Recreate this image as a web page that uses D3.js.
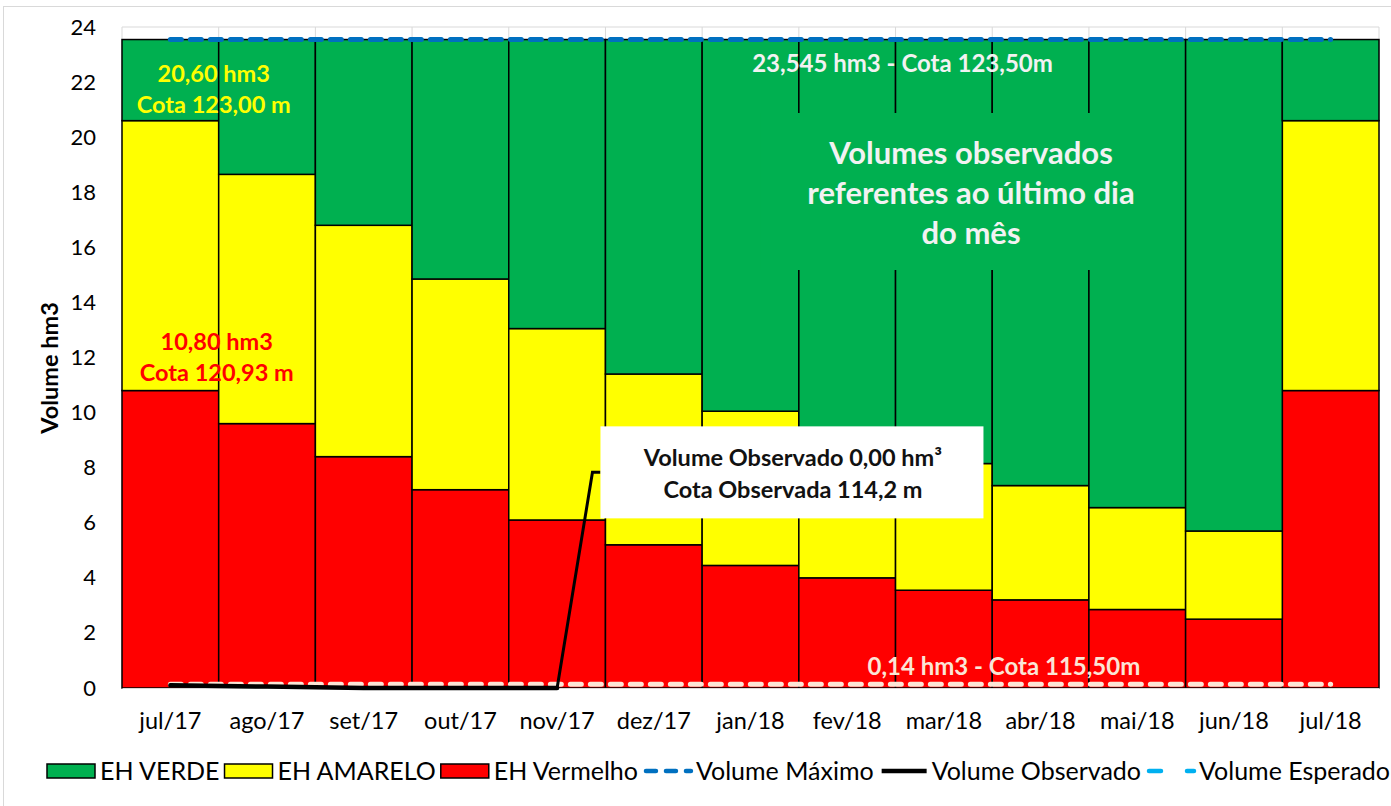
<!DOCTYPE html>
<html>
<head>
<meta charset="utf-8">
<script src="https://cdn.jsdelivr.net/npm/d3@7"></script>
<style>
  body { margin: 0; background: #fff; }
  svg { display: block; font-family: Lato, "Open Sans", sans-serif; }
</style>
</head>
<body>
<div id="chart"></div>
<script>
// months on the x axis
const months = ["jul/17", "ago/17", "set/17", "out/17", "nov/17", "dez/17", "jan/18",
    "fev/18", "mar/18", "abr/18", "mai/18", "jun/18", "jul/18"];

// stacked bands (hm3)
const ehVermelho = [10.80, 9.60, 8.40, 7.20, 6.10, 5.20, 4.45, 4.00, 3.55, 3.20, 2.85, 2.50, 10.80];
const ehAmarelo = [9.80, 9.05, 8.40, 7.65, 6.95, 6.20, 5.60, 5.05, 4.60, 4.15, 3.70, 3.20, 9.80];
const ehVerde = [2.945, 4.895, 6.745, 8.695, 10.495, 12.145, 13.495, 14.495, 15.395, 16.195, 16.995, 17.845, 2.945];

// lines
const volumeMaximo = [23.545, 23.545, 23.545, 23.545, 23.545, 23.545, 23.545, 23.545, 23.545, 23.545, 23.545, 23.545, 23.545];
const volumeMinimo = [0.14, 0.14, 0.14, 0.14, 0.14, 0.14, 0.14, 0.14, 0.14, 0.14, 0.14, 0.14, 0.14];
const volumeObservado = [0.10, 0.05, 0.00, 0.00, 0.00];

const yTicks = [0, 2, 4, 6, 8, 10, 12, 14, 16, 18, 20, 22, 24];

const width = 1391, height = 806;
const margin = { top: 27, right: 12, bottom: 118, left: 122 };

const svg = d3.select("#chart").append("svg")
    .attr("width", width)
    .attr("height", height);

// chart area border
svg.append("rect")
    .attr("x", 3.5).attr("y", 6.5)
    .attr("width", 1400).attr("height", 900)
    .attr("fill", "#fff")
    .attr("stroke", "#d9d9d9");

const x = d3.scaleBand()
    .domain(months)
    .range([margin.left, width - margin.right])
    .padding(0);

const y = d3.scaleLinear()
    .domain([0, 24])
    .range([height - margin.bottom, margin.top]);

const cx = m => x(m) + x.bandwidth() / 2;

// gridlines
svg.append("g")
    .selectAll("line")
    .data(yTicks)
    .join("line")
    .attr("x1", x.range()[0]).attr("x2", x.range()[1])
    .attr("y1", d => y(d)).attr("y2", d => y(d))
    .attr("stroke", "#d9d9d9");

svg.append("g")
    .selectAll("line")
    .data(months.map(m => x(m)).concat([x.range()[1]]))
    .join("line")
    .attr("x1", d => d).attr("x2", d => d)
    .attr("y1", y(24)).attr("y2", y(0))
    .attr("stroke", "#d9d9d9");

// stacked bars
const table = months.map((m, i) => ({
    month: m,
    vermelho: ehVermelho[i],
    amarelo: ehAmarelo[i],
    verde: ehVerde[i]
}));
const keys = ["vermelho", "amarelo", "verde"];
const colors = { vermelho: "#ff0000", amarelo: "#ffff00", verde: "#00b050" };
const stacked = d3.stack().keys(keys)(table);

svg.append("g")
    .selectAll("g")
    .data(stacked)
    .join("g")
    .attr("fill", d => colors[d.key])
    .selectAll("rect")
    .data(d => d)
    .join("rect")
    .attr("x", d => x(d.data.month))
    .attr("y", d => y(d[1]))
    .attr("width", x.bandwidth())
    .attr("height", d => y(d[0]) - y(d[1]))
    .attr("stroke", "#000")
    .attr("stroke-width", 1.5);

// y axis
const yAxis = svg.append("g")
    .attr("transform", `translate(${margin.left},0)`)
    .call(d3.axisLeft(y).tickValues(yTicks).tickSize(0).tickPadding(26));
yAxis.select(".domain").remove();
yAxis.selectAll("text")
    .attr("font-size", 22)
    .attr("fill", "#000")
    .attr("font-family", "Lato");

// x axis
const xAxis = svg.append("g")
    .attr("transform", `translate(0,${y(0)})`)
    .call(d3.axisBottom(x).tickSize(0).tickPadding(24));
xAxis.select(".domain").attr("stroke", "#d9d9d9");
xAxis.selectAll("text")
    .attr("font-size", 23.5)
    .attr("fill", "#000")
    .attr("font-family", "Lato");

// axis title
svg.append("text")
    .attr("transform", "translate(58,368) rotate(-90)")
    .attr("text-anchor", "middle")
    .attr("font-size", 23.5)
    .attr("font-weight", "bold")
    .text("Volume hm3");

const lineGen = d3.line()
    .x((d, i) => cx(months[i]))
    .y(d => y(d));

// volume minimo (dashed light)
svg.append("path")
    .datum(volumeMinimo)
    .attr("d", lineGen)
    .attr("fill", "none")
    .attr("stroke", "#fbe5d6")
    .attr("stroke-width", 5)
    .attr("stroke-linecap", "round")
    .attr("stroke-dasharray", "11,9");

// volume maximo
svg.append("path")
    .datum(volumeMaximo)
    .attr("d", lineGen)
    .attr("fill", "none")
    .attr("stroke", "#0070c0")
    .attr("stroke-width", 5)
    .attr("stroke-linecap", "round")
    .attr("stroke-dasharray", "11,9");

// volume observado
svg.append("path")
    .datum(volumeObservado)
    .attr("d", lineGen)
    .attr("fill", "none")
    .attr("stroke", "#000")
    .attr("stroke-width", 4.5)
    .attr("stroke-linecap", "round");

// callout for observed value
const last = volumeObservado.length - 1;
const box = { x: x("dez/17") - 5, y: y(9.5), w: 383, h: 92 };
svg.append("path")
    .attr("d", d3.line()([
        [cx(months[last]), y(volumeObservado[last])],
        [box.x - 8, box.y + box.h / 2],
        [box.x, box.y + box.h / 2]
    ]))
    .attr("fill", "none")
    .attr("stroke", "#000")
    .attr("stroke-width", 3);
svg.append("rect")
    .attr("x", box.x).attr("y", box.y)
    .attr("width", box.w).attr("height", box.h)
    .attr("fill", "#fff");
const callout = svg.append("text")
    .attr("text-anchor", "middle")
    .attr("font-size", 23.5)
    .attr("font-weight", "bold")
    .attr("fill", "#111");
callout.append("tspan")
    .attr("x", box.x + box.w / 2 + 1).attr("y", box.y + 40)
    .text("Volume Observado 0,00 hm³");
callout.append("tspan")
    .attr("x", box.x + box.w / 2 + 1).attr("y", box.y + 72)
    .text("Cota Observada 114,2 m");

// text box with note
svg.append("rect")
    .attr("x", x("fev/18") - 38).attr("y", 113)
    .attr("width", 420).attr("height", 157)
    .attr("fill", "#00b050");
const note = svg.append("text")
    .attr("text-anchor", "middle")
    .attr("font-size", 31)
    .attr("font-weight", "bold")
    .attr("fill", "#f2f2f2");
["Volumes observados", "referentes ao último dia", "do mês"].forEach((t, i) => {
    note.append("tspan")
        .attr("x", 971).attr("y", 164 + i * 40)
        .text(t);
});

// data labels
function label(lines, xc, y0, color, size) {
    const t = svg.append("text")
        .attr("text-anchor", "middle")
        .attr("font-size", size)
        .attr("font-weight", "bold")
        .attr("fill", color);
    lines.forEach((s, i) => t.append("tspan").attr("x", xc).attr("y", y0 + i * 31).text(s));
}
label(["20,60 hm3", "Cota 123,00 m"], x("ago/17") - 5, 82, "#ffff00", 23.5);
label(["10,80 hm3", "Cota 120,93 m"], x("ago/17") - 2, 350, "#ff0000", 23.5);
label(["23,545 hm3 - Cota 123,50m"], cx("jan/18") + 152, 72, "#f2f2f2", 24);
label(["0,14 hm3 - Cota 115,50m"], cx("mar/18") + 60, 675, "#fbe5d6", 24);

// legend
const legendItems = [
    { name: "EH VERDE", type: "rect", color: "#00b050" },
    { name: "EH AMARELO", type: "rect", color: "#ffff00" },
    { name: "EH Vermelho", type: "rect", color: "#ff0000" },
    { name: "Volume Máximo", type: "dash", color: "#0070c0" },
    { name: "Volume Observado", type: "line", color: "#000" },
    { name: "Volume Esperado", type: "sparse", color: "#00b0f0" }
];
const legend = svg.append("g").attr("font-size", 25);
let lx = 47;
const ly = 771;
legendItems.forEach(item => {
    const g = legend.append("g");
    if (item.type === "rect") {
        g.append("rect")
            .attr("x", lx).attr("y", ly - 7)
            .attr("width", 48).attr("height", 14)
            .attr("fill", item.color)
            .attr("stroke", "#000").attr("stroke-width", 1.5);
    } else {
        g.append("line")
            .attr("x1", lx + 3).attr("x2", lx + 48)
            .attr("y1", ly).attr("y2", ly)
            .attr("stroke", item.color)
            .attr("stroke-width", 4.5)
            .attr("stroke-linecap", item.type === "line" ? "butt" : "round")
            .attr("stroke-dasharray", item.type === "dash" ? "10,10" : item.type === "sparse" ? "12,26" : null);
    }
    const t = g.append("text")
        .attr("x", lx + 53).attr("y", ly + 9)
        .attr("fill", "#000")
        .text(item.name);
    lx += 53 + t.node().getComputedTextLength() + 5;
});
</script>
</body>
</html>
